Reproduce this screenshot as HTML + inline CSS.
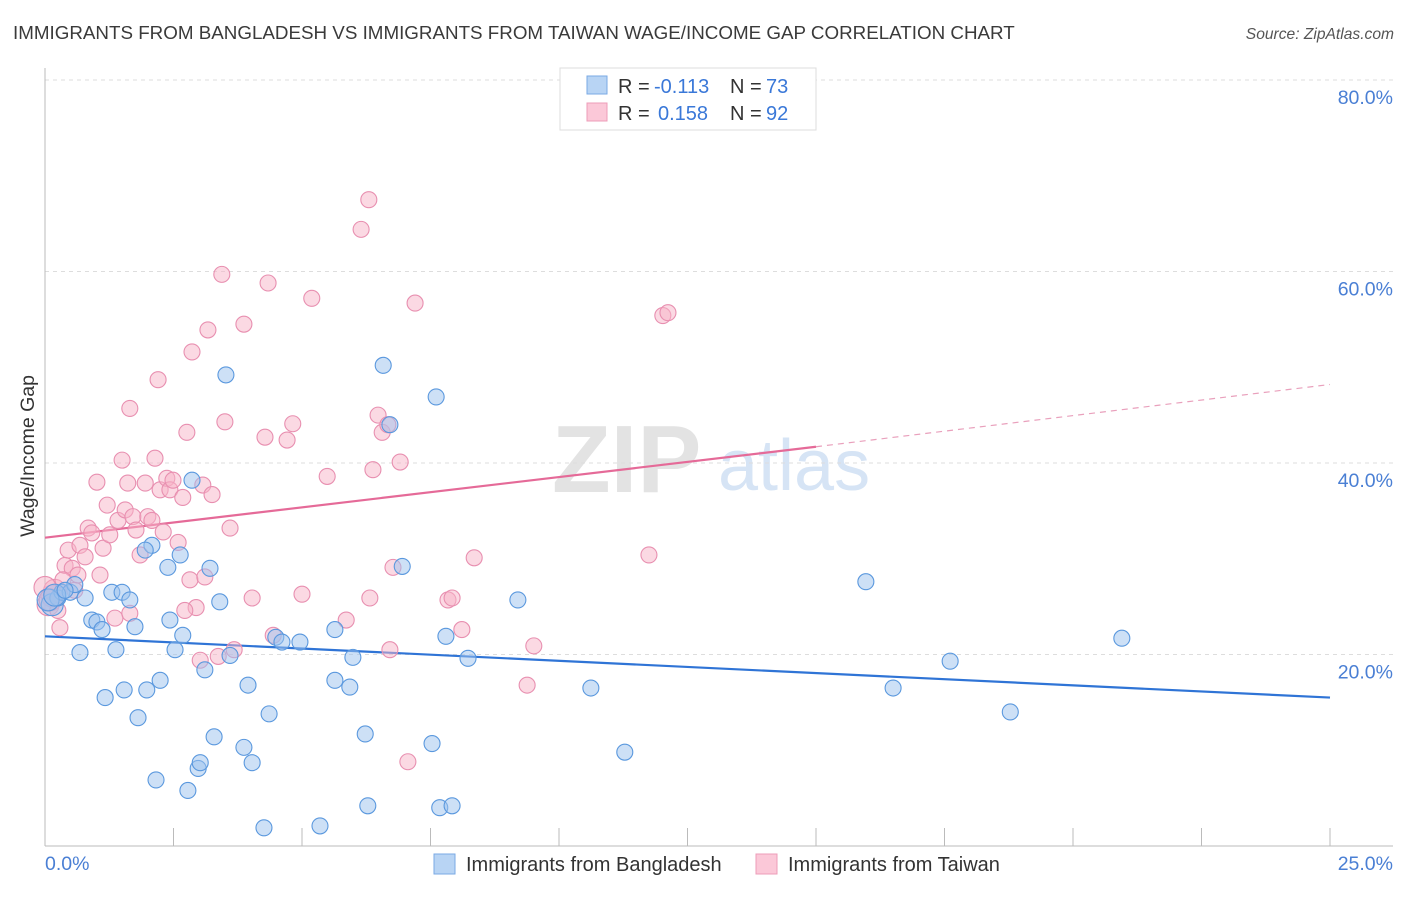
<!DOCTYPE html>
<html><head><meta charset="utf-8"><style>
body{margin:0;background:#fff;font-family:"Liberation Sans",sans-serif;}
svg text{font-family:"Liberation Sans",sans-serif;}
</style></head><body>
<svg id="chart" width="1406" height="892" viewBox="0 0 1406 892" xmlns="http://www.w3.org/2000/svg">
<text x="13" y="39" font-size="18.8" fill="#3a3a3a">IMMIGRANTS FROM BANGLADESH VS IMMIGRANTS FROM TAIWAN WAGE/INCOME GAP CORRELATION CHART</text>
<text x="1394" y="39" font-size="15.6" fill="#555" font-style="italic" text-anchor="end">Source: ZipAtlas.com</text>
<g>
<text x="552" y="492" font-size="96" fill="#e3e3e3" font-family="Liberation Serif" font-weight="bold">ZIP</text>
<text x="718" y="490" font-size="72" fill="#d6e4f5">atlas</text>
</g>
<g id="grid"></g>
<g id="axes"></g>
<g id="trend"></g>
<g id="pts"></g>
<text transform="translate(34,456) rotate(-90)" font-size="19.5" fill="#333" text-anchor="middle">Wage/Income Gap</text>
<g>
<rect x="560" y="68" width="256" height="62" fill="#fff" stroke="#ddd"/>
<rect x="587" y="76" width="20" height="18" fill="#b8d4f4" stroke="#7aaae4"/>
<rect x="587" y="103" width="20" height="18" fill="#fbc8d8" stroke="#ee9cb8"/>
<text x="618" y="93" font-size="20" fill="#333">R =</text>
<text x="654" y="93" font-size="20" fill="#3a78d8">-0.113</text>
<text x="730" y="93" font-size="20" fill="#333">N =</text>
<text x="766" y="93" font-size="20" fill="#3a78d8">73</text>
<text x="618" y="120" font-size="20" fill="#333">R =</text>
<text x="658" y="120" font-size="20" fill="#3a78d8">0.158</text>
<text x="730" y="120" font-size="20" fill="#333">N =</text>
<text x="766" y="120" font-size="20" fill="#3a78d8">92</text>
</g>
<g>
<g><rect x="434" y="854" width="21" height="20" fill="#b8d4f4" stroke="#7aaae4"/><text x="466" y="871" font-size="20" fill="#333">Immigrants from Bangladesh</text></g>
<g><rect x="756" y="854" width="21" height="20" fill="#fbc8d8" stroke="#ee9cb8"/><text x="788" y="871" font-size="20" fill="#333">Immigrants from Taiwan</text></g>
</g>
</svg>
<script>
const yTicks=[20,40,60,80];
const yTickLabels=["20.0%","40.0%","60.0%","80.0%"];
const xTickLabels=["0.0%","25.0%"];
const blueX=[0.14,0.25,0.33,0.49,0.58,0.78,0.68,0.91,1.01,1.11,1.17,1.30,1.38,1.50,1.54,1.65,1.75,1.81,1.98,2.08,2.24,1.95,2.39,2.43,2.53,2.63,2.68,2.78,2.86,2.98,3.02,3.11,3.21,3.29,3.40,3.52,3.60,3.87,3.95,4.03,4.26,4.36,4.49,4.61,4.96,5.35,5.64,5.64,5.93,5.99,6.23,6.28,6.58,6.71,6.95,7.53,7.61,7.68,7.80,7.92,8.23,9.20,10.62,11.28,15.97,16.50,17.61,18.78,20.95,0.06,0.19,0.39,2.16];
const blueY=[25.2,25.9,26.5,26.5,27.3,25.9,20.2,23.6,23.4,22.6,15.5,26.5,20.5,26.5,16.3,25.7,22.9,13.4,16.3,31.4,17.3,30.9,29.1,23.6,20.5,30.4,22.0,5.8,38.2,8.1,8.7,18.4,29.0,11.4,25.5,49.2,19.9,10.3,16.8,8.7,1.9,13.8,21.8,21.3,21.3,2.1,22.6,17.3,16.6,19.7,11.7,4.2,50.2,44.0,29.2,10.7,46.9,4.0,21.9,4.2,19.6,25.7,16.5,9.8,27.6,16.5,19.3,14.0,21.7,25.7,26.2,26.7,6.9];
const pinkX=[0.06,0.14,0.19,0.29,0.39,0.45,0.53,0.58,0.68,0.78,0.84,0.91,1.01,1.07,1.13,1.21,1.26,1.36,1.42,1.50,1.56,1.61,1.65,1.71,1.77,1.85,1.95,2.00,2.08,2.14,2.20,2.24,2.30,2.37,2.43,2.49,2.59,2.68,2.76,2.82,2.86,2.94,3.02,3.07,3.11,3.17,3.25,3.37,3.44,3.50,3.60,3.68,3.87,4.03,4.28,4.34,4.44,4.71,4.82,5.00,5.19,5.49,5.86,6.15,6.30,6.32,6.38,6.48,6.56,6.67,6.71,6.77,6.91,7.06,7.20,7.84,7.92,8.11,8.35,9.38,9.51,11.75,12.02,12.12,0.00,0.10,0.25,0.35,0.64,1.65,2.72];
const pinkY=[25.2,26.1,26.7,22.8,29.3,30.9,29.0,26.7,31.4,30.2,33.2,32.7,38.0,28.3,31.1,35.6,32.5,23.8,34.0,40.3,35.1,37.9,45.7,34.4,33.0,30.4,37.9,34.4,34.0,40.5,48.7,37.2,32.8,38.4,37.2,38.2,31.7,36.4,43.2,27.8,51.6,24.9,19.4,37.7,28.1,53.9,36.7,19.8,59.7,44.3,33.2,20.5,54.5,25.9,42.7,58.8,22.0,42.4,44.1,26.3,57.2,38.6,23.6,64.4,67.5,25.9,39.3,45.0,43.2,44.0,20.5,29.1,40.1,8.8,56.7,25.7,25.9,22.6,30.1,16.8,20.9,30.4,55.4,55.7,27.0,25.7,24.6,27.8,28.3,24.3,24.6];
const blueTrend=[21.9,15.5];
const pinkTrend=[32.2,41.7,48.2];
const pinkSolidEnd=15;
const NS="http://www.w3.org/2000/svg";
const X0=45,X1=1330,Y0=846,YPX=9.575;
const xs=v=>X0+v/25*(X1-X0);
const ys=v=>Y0-v*YPX;
function mk(t,a,p){const e=document.createElementNS(NS,t);for(const k in a)e.setAttribute(k,a[k]);p.appendChild(e);return e;}
const grid=document.getElementById('grid'),axes=document.getElementById('axes'),tr=document.getElementById('trend'),pts=document.getElementById('pts');
yTicks.forEach((t,i)=>{
 const l=mk('line',{x1:45,x2:1393,y1:ys(t),y2:ys(t),stroke:'#ddd','stroke-dasharray':'4,4'},grid);
 
 
 const tx=mk('text',{x:1393,y:ys(t)+24,'font-size':19.5,fill:'#4a7fd4','text-anchor':'end'},axes);
 tx.textContent=yTickLabels[i];
 
 
});
mk('line',{x1:45,x2:45,y1:68,y2:846,stroke:'#bbb'},axes);
mk('line',{x1:45,x2:1393,y1:846,y2:846,stroke:'#bbb'},axes);
for(let i=0;i<=10;i++){const x=xs(i*2.5);mk('line',{x1:x,x2:x,y1:828,y2:846,stroke:'#bbb'},axes);}
xTickLabels.forEach((s,i)=>{
 const tx=mk('text',{x:i?1393:45,y:870,'font-size':19.5,fill:'#4a7fd4','text-anchor':i?'end':'start'},axes);
 tx.textContent=s;
 
 
});
const bl=mk('line',{x1:xs(0),y1:ys(blueTrend[0]),x2:xs(25),y2:ys(blueTrend[1]),stroke:'#2f74d6','stroke-width':2.2},tr);


const pl=mk('line',{x1:xs(0),y1:ys(pinkTrend[0]),x2:xs(pinkSolidEnd),y2:ys(pinkTrend[1]),stroke:'#e56a98','stroke-width':2.2},tr);


const pd=mk('line',{x1:xs(pinkSolidEnd),y1:ys(pinkTrend[1]),x2:xs(25),y2:ys(pinkTrend[2]),stroke:'#e9a0bc','stroke-width':1.2,'stroke-dasharray':'6,5'},tr);


function dots(X,Y,fill,stroke,name){
 X.forEach((x,i)=>{
  const c=mk('circle',{cx:xs(x),cy:ys(Y[i]),r:(x<0.2?11:8),fill:fill,'fill-opacity':0.5,stroke:stroke,'stroke-width':1.1},pts);
  
  
 });
}
dots(pinkX,pinkY,'#f7b3c8','#e88fb0','taiwan-point');
dots(blueX,blueY,'#9cc2ee','#5a98de','bangladesh-point');
</script>
</body></html>
